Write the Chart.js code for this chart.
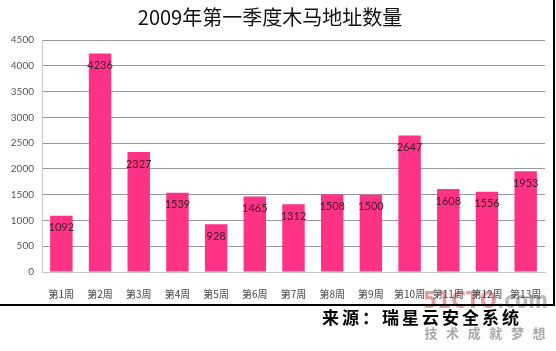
<!DOCTYPE html>
<html>
<head>
<meta charset="utf-8">
<script src="https://cdn.jsdelivr.net/npm/chart.js@4/dist/chart.umd.min.js"></script>
<style>
  html, body { margin:0; padding:0; background:#fff; }
  #wrap { position:relative; width:556px; height:351px; }
</style>
</head>
<body>
<div id="wrap"><canvas id="trojan-chart" width="556" height="351"></canvas></div>
<script>
'use strict';

// ── Data ──────────────────────────────────────────────────────────────────────
const weeks = ['第1周','第2周','第3周','第4周','第5周','第6周','第7周','第8周','第9周','第10周','第11周','第12周','第13周'];
const counts = [1092, 4236, 2327, 1539, 928, 1465, 1312, 1508, 1500, 2647, 1608, 1556, 1953];
const yMax = 4500;
const yStep = 500;
const titleText = '2009年第一季度木马地址数量';
const sourceText = '来源：瑞星云安全系统';
const sloganChars = ['技','术','成','就','梦','想'];

// ── Extras: title, bar labels, frame, source line ─────────────────────────────
const decorPlugin = {
  id: 'decor',
  beforeDraw(chart) {
    const c = chart.ctx;
    c.save();
    // watermark behind everything
    c.textAlign = 'left';
    c.textBaseline = 'alphabetic';
    c.font = 'bold 23px "Liberation Sans Narrow", "DejaVu Sans Condensed", sans-serif';
    c.fillStyle = 'rgba(205,95,95,0.6)';
    c.fillText('51CTO', 423, 308, 74);
    c.fillStyle = 'rgba(140,140,140,0.6)';
    c.fillText('.com', 497, 308, 51);
    c.font = 'bold 13px "Noto Sans CJK SC", sans-serif';
    c.fillStyle = 'rgba(140,140,140,0.75)';
    c.textAlign = 'center';
    c.textBaseline = 'middle';
    sloganChars.forEach((ch, i) => c.fillText(ch, 431 + i * 21.6, 333));
    c.restore();
  },
  afterDatasetsDraw(chart) {
    const c = chart.ctx;
    const meta = chart.getDatasetMeta(0);
    c.save();
    c.fillStyle = '#3a1a2a';
    c.font = '11px Lato, "DejaVu Sans", sans-serif';
    c.textAlign = 'center';
    c.textBaseline = 'middle';
    meta.data.forEach((bar, i) => c.fillText(String(counts[i]), bar.x, bar.y + 12));
    c.restore();
  },
  afterDraw(chart) {
    const c = chart.ctx;
    c.save();
    // title
    c.fillStyle = '#111';
    c.font = '20px "Noto Sans CJK SC", sans-serif';
    c.textAlign = 'center';
    c.textBaseline = 'middle';
    c.fillText(titleText, 270, 17);
    // frame lines
    c.strokeStyle = '#000';
    c.lineWidth = 2;
    c.beginPath();
    c.moveTo(0, 305); c.lineTo(554, 305); c.lineTo(554, 0);
    c.stroke();
    // source
    c.fillStyle = '#000';
    c.font = 'bold 17px "Noto Sans CJK SC", serif';
    c.letterSpacing = '3px';
    c.textAlign = 'left';
    c.fillText(sourceText, 322, 318);
    c.restore();
  }
};

new Chart(document.getElementById('trojan-chart'), {
  type: 'bar',
  data: {
    labels: weeks,
    datasets: [{
      data: counts,
      backgroundColor: '#FF3385',
      borderWidth: 0,
      categoryPercentage: 1,
      barPercentage: 0.58
    }]
  },
  options: {
    responsive: false,
    animation: false,
    devicePixelRatio: 1,
    layout: { padding: { top: 40, right: 11, left: 0, bottom: 0 } },
    plugins: { legend: { display: false }, tooltip: { enabled: false }, title: { display: false } },
    scales: {
      y: {
        min: 0, max: yMax,
        afterFit: s => { s.width = 42; },
        ticks: { stepSize: yStep, padding: 8, color: '#555', callback: v => String(v), font: { size: 10, family: 'Lato, "DejaVu Sans", sans-serif' } },
        grid: { color: '#9a9a9a', drawTicks: false, lineWidth: 1 },
        border: { color: '#c8c8c8' }
      },
      x: {
        afterFit: s => { s.height = 79; },
        ticks: { color: '#444', padding: 8, maxRotation: 0, autoSkip: false, font: { size: 10, family: '"Noto Sans CJK SC", sans-serif' } },
        grid: { display: false },
        border: { color: '#c8c8c8' }
      }
    }
  },
  plugins: [decorPlugin]
});
</script>
</body>
</html>
